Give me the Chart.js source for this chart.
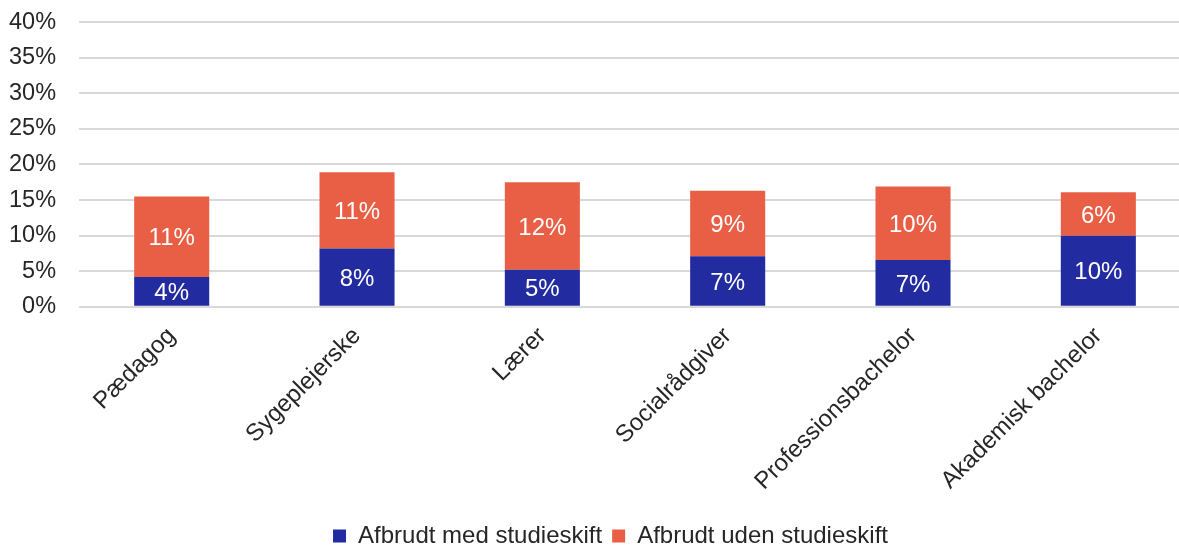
<!DOCTYPE html>
<html>
<head>
<meta charset="utf-8">
<script src="https://cdn.jsdelivr.net/npm/chart.js@4"></script>
<style>
	html, body { margin: 0; padding: 0; background: #fff; overflow: hidden; }
	body { width: 1179px; height: 547px; position: relative; }
	#wrap { position: absolute; left: -22px; top: -15px; width: 1213px; height: 573px; }
</style>
</head>
<body>
<div id="wrap"><canvas id="chart"></canvas></div>
<script>
var categories = ['Pædagog', 'Sygeplejerske', 'Lærer', 'Socialrådgiver', 'Professionsbachelor', 'Akademisk bachelor'];
var medSkift = [4.2, 8.2, 5.2, 7.1, 6.6, 10.0];
var udenSkift = [11.3, 10.7, 12.3, 9.2, 10.3, 6.1];
var yTicks = [0, 5, 10, 15, 20, 25, 30, 35, 40];

var font = 'Liberation Sans, Arial, sans-serif';

// draws the rounded value in the middle of each bar segment
var barLabels = {
	id: 'barLabels',
	afterDatasetsDraw: function(chart) {
		var ctx = chart.ctx;
		ctx.save();
		ctx.fillStyle = '#ffffff';
		ctx.font = '24px ' + font;
		ctx.textAlign = 'center';
		ctx.textBaseline = 'middle';
		chart.data.datasets.forEach(function(ds, i) {
			chart.getDatasetMeta(i).data.forEach(function(bar, j) {
				var mid = (bar.y + bar.base) / 2;
				ctx.fillText(Math.round(ds.data[j]) + '%', bar.x, mid + 2);
			});
		});
		ctx.restore();
	}
};

// legend sits a bit right of centre in the original
var legendShift = {
	id: 'legendShift',
	afterLayout: function(chart) {
		chart.legend.left += 22;
		chart.legend.right += 22;
	}
};

var chart = new Chart(document.getElementById('chart'), {
	type: 'bar',
	data: {
		labels: categories,
		datasets: [{
			label: 'Afbrudt med studieskift',
			data: medSkift,
			backgroundColor: '#222b9f'
		}, {
			label: 'Afbrudt uden studieskift',
			data: udenSkift,
			backgroundColor: '#e95f45'
		}]
	},
	options: {
		responsive: true,
		maintainAspectRatio: false,
		animation: false,
		layout: { padding: { top: 8, left: 8, right: 0, bottom: 0 } },
		datasets: {
			bar: { categoryPercentage: 1, barPercentage: 0.405 }
		},
		scales: {
			x: {
				stacked: true,
				grid: { display: false },
				border: { display: false },
				afterFit: function(axis) { axis.height += 11; },
				ticks: {
					color: '#262626',
					font: { family: font, size: 24 },
					minRotation: 45,
					maxRotation: 45,
					padding: 7
				}
			},
			y: {
				stacked: true,
				min: 0,
				max: 40,
				afterBuildTicks: function(axis) {
					axis.ticks = yTicks.map(function(v) { return { value: v }; });
				},
				grid: { color: '#d9d9d9', lineWidth: 2, drawTicks: false },
				border: { display: false },
				ticks: {
					color: '#262626',
					font: { family: font, size: 23.5 },
					padding: 23,
					callback: function(v) { return v + '%'; }
				}
			}
		},
		plugins: {
			legend: {
				position: 'bottom',
				labels: {
					color: '#262626',
					font: { family: font, size: 24 },
					boxWidth: 13,
					boxHeight: 13,
					padding: 10
				}
			},
			tooltip: { enabled: false }
		}
	},
	plugins: [barLabels, legendShift]
});
</script>
</body>
</html>
